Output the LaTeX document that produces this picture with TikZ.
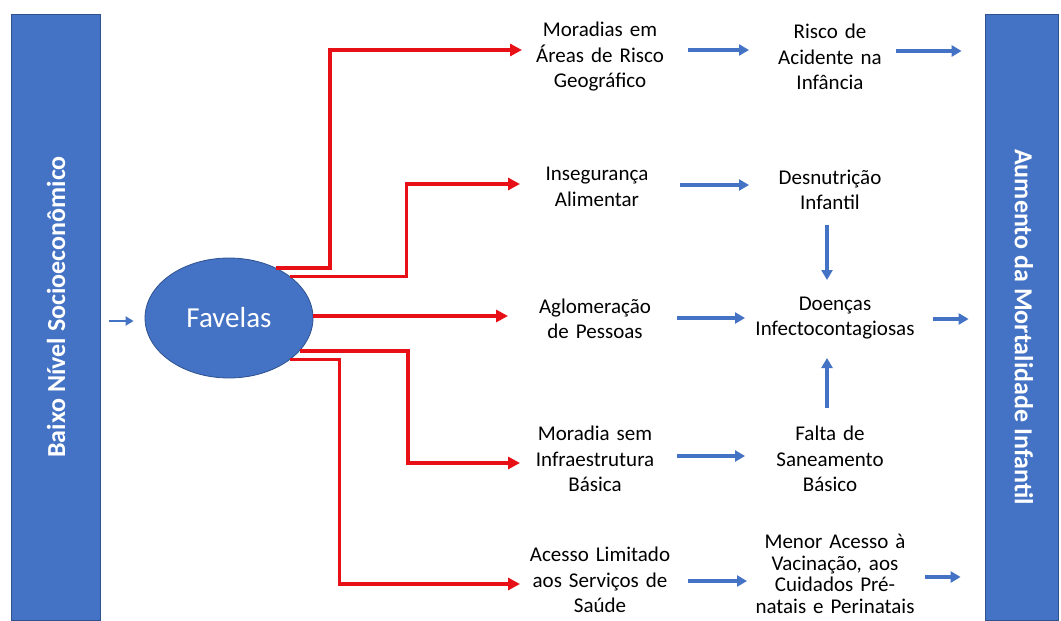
\documentclass[tikz,border=0pt]{standalone}
\usepackage{fontspec}
\setmainfont{Carlito}
\usetikzlibrary{arrows.meta,calc,shapes.geometric}
\definecolor{obl}{RGB}{68,114,196}
\definecolor{obd}{RGB}{47,82,143}
\definecolor{rl}{RGB}{230,16,22}
\begin{document}
\begin{tikzpicture}[x=1pt,y=-1pt,
  bar/.style={draw=obd,line width=0.8pt,fill=obl,inner sep=0pt},
  bartext/.style={text=white,font=\fontsize{26}{30}\selectfont\bfseries,inner sep=0pt},
  lbl/.style={font=\fontsize{21}{25.5}\selectfont,align=center,text width=160pt,inner sep=0pt},
  lbltwo/.style={font=\fontsize{21}{25.5}\selectfont,align=center,text width=175pt,inner sep=0pt},
  rarrow/.style={draw=rl,line width=3.8pt,-{Triangle[length=12pt,width=12pt]}},
  barrow/.style={draw=obl,line width=3.5pt,-{Triangle[length=10pt,width=11pt]}},
  sarrow/.style={draw=obl,line width=2.6pt,-{Triangle[length=8pt,width=9pt]}}
]
\useasboundingbox (0,0) rectangle (1061,621);
% bars
\node[bar,minimum width=89pt,minimum height=606pt] (L) at (55.5,317) {};
\node[bar,minimum width=73pt,minimum height=606pt] (R) at (1021.5,317) {};
\node[bartext,rotate=90] (Lt) at (56,307) {Baixo Nível Socioeconômico};
\node[bartext,rotate=-90] (Rt) at (1024,327) {Aumento da Mortalidade Infantil};
% ellipse
\node[ellipse,draw=obd,line width=0.8pt,fill=obl,minimum width=168pt,minimum height=120pt,inner sep=0pt,text=white,font=\fontsize{29}{34}\selectfont] (F) at (229,318) {Favelas};
% column 1
\node[lbl] (m1) at (600,57) {Moradias em\\Áreas de Risco\\Geográfico};
\node[lbl] (m2) at (597,187) {Insegurança\\Alimentar};
\node[lbl] (m3) at (595,319) {Aglomeração\\de Pessoas};
\node[lbl] (m4) at (595,459) {Moradia sem\\Infraestrutura\\Básica};
\node[lbl] (m5) at (600,580) {Acesso Limitado\\aos Serviços de\\Saúde};
% column 2
\node[lbltwo] (r1) at (830,57) {Risco de\\Acidente na\\Infância};
\node[lbltwo] (r2) at (830,190) {Desnutrição\\Infantil};
\node[lbltwo] (r3) at (835,318) {Doenças\\Infectocontagiosas};
\node[lbltwo] (r4) at (830,459) {Falta de\\Saneamento\\Básico};
\node[lbltwo,font=\fontsize{21}{21.7}\selectfont] (r5) at (835,574) {Menor Acesso à\\Vacinação, aos\\Cuidados Pré-\\natais e Perinatais};
% left arrow
\draw[sarrow] ($(L.east)+(9,4)$) -- ($(F.west)+(-11,3)$);
% red connectors
\draw[rarrow] (F.47) -- ++(54,0) |- ($(m1)+(-78,-7)$);
\draw[rarrow] (F.34) -- ++(116,0) |- ($(m2)+(-77,-3)$);
\draw[rarrow] ($(F.east)+(0,-2)$) -- ($(m3)+(-87,-3)$);
\draw[rarrow] (F.-25) -- ++(108,0) |- ($(m4)+(-75,4)$);
\draw[rarrow] (F.-34) -- ++(49,0) |- ($(m5)+(-80,4)$);
% blue col1 -> col2
\draw[barrow] ($(m1)+(88,-7)$) -- ($(r1)+(-81,-7)$);
\draw[barrow] ($(m2)+(83,-2)$) -- ($(r2)+(-81,-5)$);
\draw[barrow] ($(m3)+(82,-1)$) -- ($(r3)+(-90,0)$);
\draw[barrow] ($(m4)+(82,-3)$) -- ($(r4)+(-85,-3)$);
\draw[barrow] ($(m5)+(88,1)$) -- ($(r5)+(-88,7)$);
% vertical
\draw[barrow] ($(r2)+(-3,35)$) -- ($(r3)+(-8,-38)$);
\draw[barrow] ($(r4)+(-3,-51)$) -- ($(r3)+(-8,40)$);
% to right bar
\draw[barrow] ($(r1)+(66,-6)$) -- ($(R.west)+(-23,-266)$);
\draw[barrow] ($(r3)+(98,1)$) -- ($(R.west)+(-16,2)$);
\draw[barrow] ($(r5)+(90,3)$) -- ($(R.west)+(-24,260)$);
\end{tikzpicture}
\end{document}
